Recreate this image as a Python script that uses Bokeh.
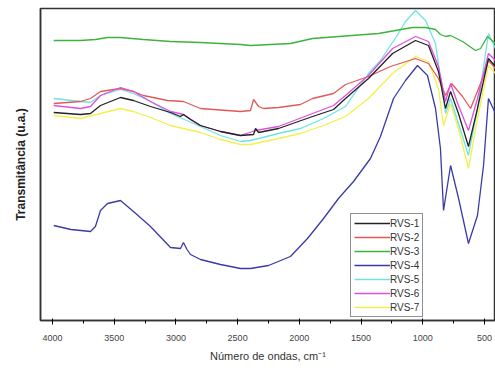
from bokeh.plotting import figure
from bokeh.models import Range1d, Legend, LegendItem, FixedTicker
from bokeh.embed import file_html
from bokeh.resources import INLINE

# wavenumbers (cm^-1) and transmittance (arbitrary units)
w1 = [3990, 3773, 3692, 3611, 3449, 3344, 3206, 3044, 2963, 2939, 2882, 2801, 2639, 2477, 2371, 2355, 2330, 2169, 1893, 1723, 1626, 1440, 1245, 1059, 954, 873, 816, 775, 711, 630, 557, 468, 411]
t1 = [208, 206, 207, 215, 223, 220, 214, 208, 204, 206, 201, 195, 189, 185, 186, 192, 188, 192, 204, 211, 222, 242, 267, 280, 275, 249, 212, 229, 207, 174, 212, 262, 254]

w2 = [3990, 3773, 3692, 3611, 3449, 3344, 3263, 3068, 2939, 2801, 2477, 2396, 2371, 2330, 2290, 2169, 1991, 1893, 1723, 1626, 1440, 1262, 1059, 954, 873, 816, 767, 678, 613, 532, 468, 411]
t2 = [217, 219, 222, 229, 232, 229, 225, 220, 219, 212, 209, 210, 221, 214, 212, 213, 216, 222, 227, 236, 244, 254, 262, 257, 242, 225, 237, 224, 212, 237, 260, 252]

w3 = [3990, 3773, 3652, 3554, 3449, 3263, 3044, 2801, 2477, 2396, 2072, 1893, 1359, 1221, 1083, 978, 897, 857, 816, 775, 678, 573, 532, 476, 411]
t3 = [280, 280, 281, 283, 283, 281, 279, 278, 276, 275, 277, 282, 287, 290, 293, 293, 291, 286, 284, 285, 279, 270, 272, 284, 277]

w4 = [3990, 3850, 3692, 3652, 3611, 3554, 3449, 3344, 3206, 3044, 2963, 2939, 2910, 2882, 2801, 2639, 2477, 2396, 2250, 2072, 1934, 1804, 1683, 1626, 1561, 1424, 1343, 1237, 1140, 1043, 962, 897, 857, 832, 775, 710, 630, 557, 508, 468, 411]
t4 = [95, 91, 89, 94, 110, 117, 120, 109, 94, 73, 72, 78, 71, 66, 61, 56, 52, 52, 55, 64, 82, 102, 122, 130, 139, 162, 184, 222, 240, 255, 245, 212, 172, 110, 155, 122, 77, 105, 155, 222, 207]

w5 = [3990, 3773, 3692, 3611, 3449, 3344, 3206, 3044, 2801, 2639, 2477, 2396, 2169, 1991, 1804, 1626, 1440, 1343, 1213, 1140, 1059, 978, 897, 857, 816, 775, 711, 630, 557, 468, 411]
t5 = [222, 219, 218, 225, 231, 227, 219, 207, 194, 185, 179, 180, 187, 192, 202, 214, 247, 260, 284, 299, 310, 300, 277, 242, 207, 222, 197, 165, 212, 287, 272]

w6 = [3990, 3773, 3692, 3611, 3449, 3344, 3206, 3044, 2939, 2801, 2639, 2477, 2355, 2169, 1893, 1723, 1626, 1440, 1245, 1059, 954, 873, 816, 775, 711, 630, 557, 468, 411]
t6 = [215, 212, 214, 225, 233, 229, 219, 209, 206, 195, 189, 185, 190, 194, 207, 215, 225, 245, 272, 284, 279, 254, 219, 237, 215, 190, 222, 267, 260]

w7 = [3990, 3773, 3611, 3449, 3344, 3206, 3044, 2801, 2639, 2477, 2396, 2169, 1991, 1804, 1626, 1440, 1245, 1059, 954, 873, 832, 775, 711, 630, 557, 468, 411]
t7 = [205, 202, 207, 212, 209, 203, 195, 188, 181, 176, 176, 182, 187, 195, 204, 222, 247, 264, 259, 232, 195, 217, 192, 152, 202, 255, 247]

labels = ["RVS-1", "RVS-2", "RVS-3", "RVS-4", "RVS-5", "RVS-6", "RVS-7"]
colors = ["#222222", "#e05a5a", "#3cb43c", "#3a3aa8", "#6fe3e3", "#e050e0", "#f2f04a"]
xticks = [4000, 3500, 3000, 2500, 2000, 1500, 1000, 500]
minor_ticks = [3750, 3250, 2750, 2250, 1750, 1250, 750]

p = figure(width=495, height=366, output_backend="svg", toolbar_location=None,
           x_range=Range1d(4097, 411), y_range=Range1d(0, 312),
           min_border_left=40, min_border_right=0, min_border_top=8, min_border_bottom=46)
p.background_fill_color = "white"
p.border_fill_color = "white"
p.outline_line_color = "#333333"
p.outline_line_width = 1.5
p.grid.visible = False

series = [(w1, t1), (w2, t2), (w3, t3), (w4, t4), (w5, t5), (w6, t6), (w7, t7)]
draw_order = [6, 4, 2, 1, 5, 0, 3]
rmap = {}
for i in draw_order:
    w, t = series[i]
    rmap[i] = p.line(w, t, line_color=colors[i], line_width=1.3)
items = [LegendItem(label=labels[i], renderers=[rmap[i]]) for i in range(7)]
legend = Legend(items=items, location=(310, 3), label_text_font="Liberation Sans",
                label_text_font_size="10px", label_text_color="#333333",
                glyph_width=36, glyph_height=12, label_height=12, label_standoff=0,
                spacing=2, padding=3, margin=0, border_line_color="#222222",
                border_line_width=1.5, background_fill_alpha=1.0)
p.add_layout(legend)

xa = p.xaxis[0]
xa.ticker = FixedTicker(ticks=xticks, minor_ticks=minor_ticks)
xa.axis_label = "Número de ondas, cm⁻¹"
xa.axis_label_text_font = "Liberation Sans"
xa.axis_label_text_font_size = "11px"
xa.axis_label_text_font_style = "normal"
xa.axis_label_text_color = "#333333"
xa.axis_label_standoff = 6
xa.major_label_text_font = "Liberation Sans"
xa.major_label_text_font_size = "9px"
xa.major_label_text_color = "#444444"
xa.major_label_standoff = 10
xa.major_tick_out = 4
xa.major_tick_in = 2
xa.minor_tick_out = 3
xa.minor_tick_in = 0
xa.axis_line_width = 1.5
xa.axis_line_color = "#333333"

ya = p.yaxis[0]
ya.ticker = FixedTicker(ticks=[])
ya.axis_label = "Transmitância (u.a.)"
ya.axis_label_text_font = "Liberation Sans"
ya.axis_label_text_font_size = "12px"
ya.axis_label_text_font_style = "bold"
ya.axis_label_text_color = "#222222"
ya.major_tick_out = 0
ya.major_tick_in = 0
ya.minor_tick_out = 0
ya.minor_tick_in = 0
ya.axis_label_standoff = 13
ya.axis_line_width = 1.5
ya.axis_line_color = "#333333"

open("out.html", "w").write(file_html(p, INLINE))
